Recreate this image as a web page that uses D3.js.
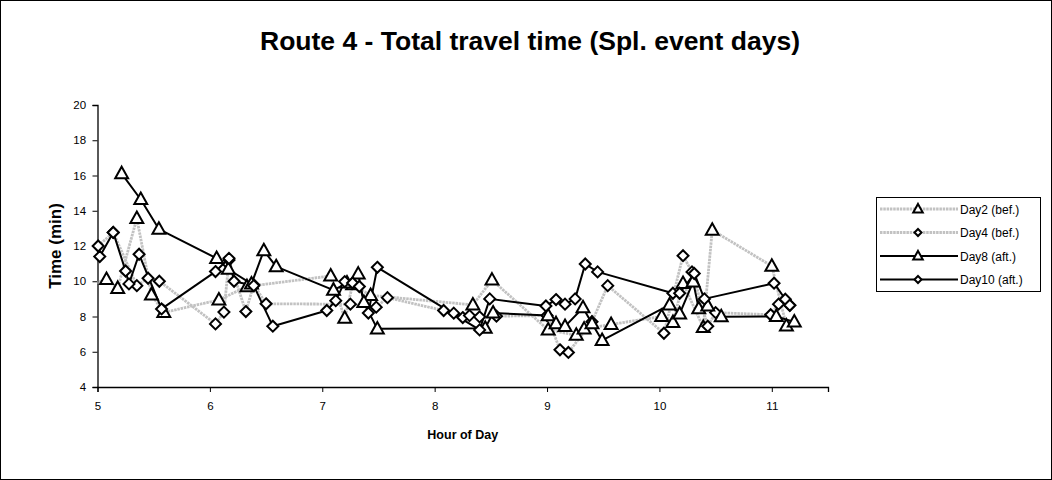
<!DOCTYPE html>
<html><head><meta charset="utf-8">
<script src="https://cdn.jsdelivr.net/npm/d3@7"></script>
<style>body{margin:0;background:#fff;}svg{display:block;font-family:Arial,"Liberation Sans",sans-serif;}</style>
</head><body>
<svg id="c" width="1052" height="480"></svg>
<script>
const title = "Route 4 - Total travel time (Spl. event days)";
const xTitle = "Hour of Day";
const yTitle = "Time (min)";
const xTicks = [5, 6, 7, 8, 9, 10, 11];
const yTicks = [4, 6, 8, 10, 12, 14, 16, 18, 20];
const seriesNames = ["Day2 (bef.)", "Day4 (bef.)", "Day8 (aft.)", "Day10 (aft.)"];

const day2Hour = [4.93, 5.08, 5.18, 5.35, 5.48, 5.59, 6.08, 6.33, 7.075, 7.20, 7.27, 7.43, 8.34, 8.51, 9.01, 9.26, 9.33, 9.57, 10.02, 10.12, 10.21, 10.39, 10.47, 11.0, 11.13];
const day2Time = [9.8, 10.1, 9.6, 13.57, 9.23, 8.23, 8.94, 9.7, 10.3, 7.9, 9.8, 9.2, 8.66, 10.07, 7.24, 6.94, 7.29, 7.55, 8.0, 7.66, 9.88, 7.38, 12.9, 10.86, 7.46];

const day4Hour = [5.006, 5.14, 5.35, 5.45, 5.55, 6.05, 6.125, 6.17, 6.32, 6.39, 6.5, 7.25, 7.48, 7.58, 8.08, 8.17, 8.25, 8.31, 8.40, 8.55, 9.0, 9.115, 9.19, 9.40, 9.54, 10.04, 10.21, 10.29, 10.43, 10.50, 10.99, 11.06, 11.16];
const day4Time = [12.0, 12.77, 9.75, 10.17, 10.0, 7.58, 8.25, 11.2, 8.28, 9.8, 8.72, 8.7, 8.53, 9.07, 8.34, 8.19, 7.94, 8.05, 7.98, 8.02, 8.05, 6.11, 5.96, 7.7, 9.75, 7.05, 11.45, 10.53, 7.45, 8.22, 8.1, 8.7, 8.64];

const day8Hour = [5.215, 5.385, 5.546, 6.06, 6.164, 6.37, 6.48, 6.59, 7.10, 7.22, 7.32, 7.37, 7.49, 8.45, 8.52, 9.01, 9.08, 9.16, 9.32, 9.40, 9.49, 10.09, 10.18, 10.30, 10.35, 10.43, 10.55, 11.04, 11.2];
const day8Time = [16.11, 14.64, 12.96, 11.3, 10.68, 9.85, 11.74, 10.83, 9.5, 9.9, 10.41, 8.8, 7.3, 7.34, 8.2, 8.05, 7.6, 7.44, 8.5, 7.6, 6.64, 8.66, 8.15, 9.97, 8.45, 8.6, 7.99, 8.0, 7.69];

const day10Hour = [5.02, 5.14, 5.25, 5.28, 5.37, 5.57, 6.05, 6.17, 6.215, 6.39, 6.56, 7.04, 7.12, 7.2, 7.27, 7.33, 7.41, 7.49, 8.40, 8.49, 8.99, 9.08, 9.16, 9.25, 9.34, 9.45, 10.12, 10.18, 10.31, 10.40, 11.02, 11.12, 11.16];
const day10Time = [11.4, 12.77, 10.58, 9.85, 11.53, 8.43, 10.55, 11.3, 10.0, 9.75, 7.45, 8.34, 8.9, 9.98, 9.9, 9.7, 8.2, 10.79, 7.24, 9.0, 8.6, 8.96, 8.7, 9.0, 10.98, 10.53, 9.32, 9.32, 10.44, 9.0, 9.89, 8.98, 8.64];

const series = [
  {name: seriesNames[0], hours: day2Hour, times: day2Time, color: "#c2c2c2", dash: "2.5,0.8", width: 2.8, marker: "tri"},
  {name: seriesNames[1], hours: day4Hour, times: day4Time, color: "#c2c2c2", dash: "2.5,0.8", width: 2.8, marker: "dia"},
  {name: seriesNames[2], hours: day8Hour, times: day8Time, color: "#000000", dash: null, width: 2, marker: "tri"},
  {name: seriesNames[3], hours: day10Hour, times: day10Time, color: "#000000", dash: null, width: 2, marker: "dia"}
];

const svg = d3.select("#c");
const W = 1052, H = 480;
const m = {left: 97.5, right: 828, top: 105, bottom: 387};

svg.append("rect").attr("x", 0.5).attr("y", 0.5).attr("width", W - 1).attr("height", H - 1)
  .attr("fill", "#fff").attr("stroke", "#000").attr("stroke-width", 1);

const x = d3.scaleLinear().domain([5, 11.5]).range([m.left, m.right]);
const y = d3.scaleLinear().domain([4, 20]).range([m.bottom, m.top]);

svg.append("defs").append("clipPath").attr("id", "clip")
  .append("rect").attr("x", m.left).attr("y", m.top).attr("width", m.right - m.left).attr("height", m.bottom - m.top);

// axes
const xAxis = svg.append("g").attr("transform", `translate(0,${m.bottom})`)
  .call(d3.axisBottom(x).tickValues(xTicks).tickFormat(d3.format("d")).tickSizeOuter(0).tickSize(5));
const yAxis = svg.append("g").attr("transform", `translate(${m.left},0)`)
  .call(d3.axisLeft(y).tickValues(yTicks).tickFormat(d3.format("d")).tickSizeOuter(0).tickSize(5));
[xAxis, yAxis].forEach(g => {
  g.select(".domain").attr("stroke", "#000").attr("stroke-width", 1.3);
  g.selectAll(".tick line").attr("stroke", "#000");
  g.selectAll(".tick text").attr("font-size", 11.5).attr("fill", "#000").attr("font-family", "Arial, 'Liberation Sans', sans-serif");
});
xAxis.selectAll(".tick text").attr("dy", "1.3em");
yAxis.selectAll(".tick text").attr("dx", "-0.3em");

// titles
svg.append("text").attr("x", 530).attr("y", 50).attr("text-anchor", "middle")
  .attr("font-size", 26.5).attr("font-weight", "bold").text(title);
svg.append("text").attr("x", (m.left + m.right) / 2).attr("y", 439).attr("text-anchor", "middle")
  .attr("font-size", 12.5).attr("font-weight", "bold").text(xTitle);
svg.append("text").attr("transform", `translate(61,${(m.top + m.bottom) / 2}) rotate(-90)`)
  .attr("text-anchor", "middle").attr("font-size", 17).attr("font-weight", "bold").text(yTitle);

function markerPath(type, s) {
  if (type === "tri") {
    return `M0,${-s * 0.6}L${s * 0.56},${s * 0.4}L${-s * 0.56},${s * 0.4}Z`;
  }
  return `M0,${-s * 0.5}L${s * 0.5},0L0,${s * 0.5}L${-s * 0.5},0Z`;
}

const line = d3.line().x(d => x(d[0])).y(d => y(d[1]));
const plot = svg.append("g").attr("clip-path", "url(#clip)");

series.forEach(s => {
  const pts = s.hours.map((h, i) => [h, s.times[i]]);
  plot.append("path").datum(pts).attr("d", line).attr("fill", "none")
    .attr("stroke", s.color).attr("stroke-width", s.width)
    .attr("stroke-dasharray", s.dash).attr("stroke-linejoin", "round");
});
series.forEach(s => {
  const pts = s.hours.map((h, i) => [h, s.times[i]]).filter(d => d[0] >= 5);
  svg.append("g").selectAll("path").data(pts).join("path")
    .attr("transform", d => `translate(${x(d[0])},${y(d[1])})`)
    .attr("d", markerPath(s.marker, s.marker === "tri" ? 11.5 : 11))
    .attr("fill", "#fff").attr("stroke", "#000").attr("stroke-width", 2);
});

// legend
const lg = svg.append("g");
lg.append("rect").attr("x", 876.5).attr("y", 197.5).attr("width", 164).attr("height", 94)
  .attr("fill", "#fff").attr("stroke", "#000").attr("stroke-width", 1);
const ly = [209, 232.5, 256, 279.5];
series.forEach((s, i) => {
  lg.append("line").attr("x1", 880).attr("x2", 958).attr("y1", ly[i]).attr("y2", ly[i])
    .attr("stroke", s.color).attr("stroke-width", s.width).attr("stroke-dasharray", s.dash);
  lg.append("path").attr("transform", `translate(918,${ly[i]})`)
    .attr("d", markerPath(s.marker, s.marker === "tri" ? 8.5 : 7))
    .attr("fill", "#fff").attr("stroke", "#000").attr("stroke-width", 2);
  lg.append("text").attr("x", 960).attr("y", ly[i] + 4.5).attr("font-size", 12).text(s.name);
});
</script>
</body></html>
